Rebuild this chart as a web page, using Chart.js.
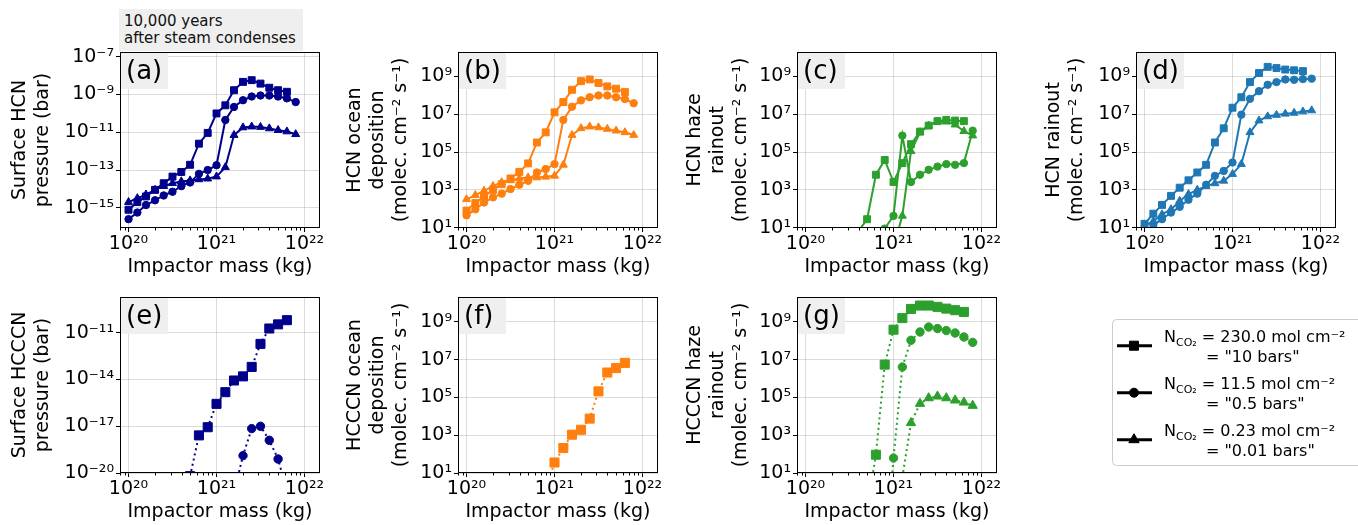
<!DOCTYPE html>
<html>
<head>
<meta charset="utf-8">
<script src="https://cdn.jsdelivr.net/npm/chart.js@4.4.1/dist/chart.umd.min.js"></script>
<style>
html, body { margin: 0; padding: 0; background: #fff; overflow: hidden; width: 1358px; height: 525px; position: relative; }
canvas { position: absolute; }
#note { position: absolute; left: 119px; top: 9px; width: 184px; height: 42px; background: #efefef;
        font: 15px 'DejaVu Sans'; line-height: 17px; padding: 4px 0 0 5px; box-sizing: border-box; color: #111; }
</style>
</head>
<body>
<div id="note">10,000 years<br>after steam condenses</div>
<canvas id="legend" width="246" height="148" style="left:1112px;top:319px"></canvas>
<script>
// ---------- data (impactor mass in kg) ----------
const mass = [1.0e20, 1.26e20, 1.58e20, 2.0e20, 2.51e20, 3.16e20, 3.98e20, 5.01e20, 6.31e20, 7.94e20,
              1.0e21, 1.26e21, 1.58e21, 2.0e21, 2.51e21, 3.16e21, 3.98e21, 5.01e21, 6.31e21, 7.94e21];

// (a) surface HCN pressure (bar)
const pHCN_10bar  = [7.9e-16, 2.0e-15, 4.0e-15, 8.9e-15, 2.0e-14, 4.5e-14, 7.9e-14, 1.9e-13, 2.5e-12, 9.3e-12,
                     1.0e-10, 2.7e-10, 1.7e-9, 4.7e-9, 5.8e-9, 3.8e-9, 2.3e-9, 1.7e-9, 1.4e-9];
const pHCN_05bar  = [2.5e-16, 5.6e-16, 1.4e-15, 2.5e-15, 4.5e-15, 7.1e-15, 1.4e-14, 2.2e-14, 6.3e-14, 1.0e-13,
                     1.8e-13, 4.5e-11, 2.2e-10, 5.0e-10, 7.9e-10, 8.9e-10, 8.9e-10, 7.9e-10, 6.3e-10, 4.0e-10];
const pHCN_001bar = [2.0e-15, 3.2e-15, 5.0e-15, 8.9e-15, 1.4e-14, 2.0e-14, 2.5e-14, 2.8e-14, 3.2e-14, 3.5e-14,
                     4.5e-14, 1.4e-13, 7.1e-12, 1.8e-11, 2.0e-11, 1.9e-11, 1.6e-11, 1.3e-11, 1.1e-11, 7.9e-12];

// (b) HCN ocean deposition (molec. cm^-2 s^-1)
const oceanHCN_10bar  = [80, 200, 450, 1000, 2000, 4000, 8900, 2.5e4, 3.2e5, 1.1e6,
                         1.26e7, 4.4e7, 1.95e8, 5.6e8, 6.9e8, 4.5e8, 2.95e8, 2.24e8, 1.48e8];
const oceanHCN_05bar  = [45, 93, 214, 400, 630, 1100, 1860, 3000, 8300, 1.26e4,
                         2.3e4, 5.0e6, 2.5e7, 5.4e7, 7.9e7, 9.8e7, 9.8e7, 7.9e7, 6.3e7, 3.8e7];
const oceanHCN_001bar = [316, 525, 890, 1580, 2500, 3160, 4000, 4500, 4500, 4900,
                         5500, 2.1e4, 7.9e5, 1.8e6, 2.2e6, 2.0e6, 1.66e6, 1.35e6, 1.1e6, 7.9e5];

// (c) HCN haze rainout
const hazeHCN_10bar  = [null, null, null, null, null, null, 6.3, 28, 6300, 3.8e4,
                        2600, 2.6e4, 2.6e5, 1.2e6, 2.5e6, 4.3e6, 5.0e6, 4.6e6, 4.3e6];
const hazeHCN_05bar  = [null, null, null, null, null, null, null, null, 2, 8.9,
                        42, 7.4e5, 2600, 6300, 1.15e4, 1.7e4, 2.3e4, 2.1e4, 2.6e4, 1.35e6];
const hazeHCN_001bar = [null, null, null, null, null, null, null, null, null, null,
                        1, 42, 1.1e5, 1.1e6, 2.5e6, 4.0e6, 4.0e6, 2.8e6, 1.26e6, 7.4e5];

// (d) HCN rainout
const rainHCN_10bar  = [16, 55, 160, 480, 1300, 3200, 8300, 2.1e4, 3.2e5, 1.8e6,
                        2.2e7, 7.9e7, 5.0e8, 1.5e9, 3.2e9, 2.75e9, 2.3e9, 2.1e9, 1.9e9];
const rainHCN_05bar  = [5, 14, 28, 63, 126, 300, 630, 1860, 5500, 1.0e4,
                        2.8e4, 9.5e6, 6.5e7, 1.66e8, 3.6e8, 5.0e8, 6.9e8, 6.6e8, 7.2e8, 7.6e8];
const rainHCN_001bar = [12.6, 22, 50, 93, 260, 590, 1000, 1580, 2200, 3000,
                        6800, 2.3e4, 1.1e6, 4.6e6, 7.6e6, 9.1e6, 1.05e7, 1.17e7, 1.38e7, 1.58e7];

// (e) surface HCCCN pressure (bar)
const pHC3N_10bar = [null, null, null, null, null, null, null, 6.3e-21, 2.6e-18, 8.7e-18,
                     2.75e-16, 1.55e-15, 8.7e-15, 1.6e-14, 6.5e-14, 1.95e-12, 1.9e-11, 3.5e-11, 6.5e-11];
const pHC3N_05bar = [null, null, null, null, null, null, null, null, null, null,
                     null, null, 5.5e-22, 1.3e-19, 7.1e-18, 1.0e-17, 1.26e-18, 7.9e-20, 6.3e-22];

// (f) HCCCN ocean deposition
const oceanHC3N_10bar = [null, null, null, null, null, null, null, null, null, 1.26,
                         36, 210, 1070, 1950, 7600, 2.1e5, 2.1e6, 3.6e6, 6.8e6];

// (g) HCCCN haze rainout
const hazeHC3N_10bar  = [null, null, null, null, null, null, null, 0.13, 93, 5.5e6,
                         3.9e8, 1.6e9, 4.9e9, 7.4e9, 7.4e9, 6.3e9, 5.1e9, 4.2e9, 3.4e9];
const hazeHC3N_05bar  = [null, null, null, null, null, null, null, null, null, 1e-4,
                         62, 4.1e6, 1.07e8, 2.95e8, 5.4e8, 4.5e8, 3.5e8, 2.6e8, 1.6e8, 8.3e7];
const hazeHC3N_001bar = [null, null, null, null, null, null, null, null, null, null,
                         null, 6, 4500, 4.7e4, 9.3e4, 1.15e5, 9.3e4, 7.1e4, 5.5e4, 3.7e4];

// ticks
const xTicks = [1e20, 1e21, 1e22];
const yTicksHCN = [1e-15, 1e-13, 1e-11, 1e-9, 1e-7];
const yTicksFlux = [1e1, 1e3, 1e5, 1e7, 1e9];
const yTicksHC3N = [1e-20, 1e-17, 1e-14, 1e-11];

const legendAmounts = ['= 230.0 mol cm⁻²', '= 11.5 mol cm⁻²', '= 0.23 mol cm⁻²'];
const legendPressures = ['= "10 bars"', '= "0.5 bars"', '= "0.01 bars"'];

// ---------- styling ----------
const FONT = 'DejaVu Sans';
const GRID = 'rgba(176,176,176,0.45)';
const NAVY = '#00008b', ORANGE = '#ff7f0e', GREEN = '#2ca02c', BLUE = '#1f77b4';
const FLUX = '(molec. cm⁻² s⁻¹)';
const markers = ['rect', 'circle', 'triangle'];

const xMinor = [];
[1e19, 1e20, 1e21].forEach(d => { for (let m = 2; m <= 9; m++) xMinor.push(m * d); });

const SUP = {'-': '⁻', '0': '⁰', '1': '¹', '2': '²', '3': '³', '4': '⁴', '5': '⁵', '6': '⁶', '7': '⁷', '8': '⁸', '9': '⁹'};
function pow10(v) {
    const e = Math.round(Math.log10(v));
    return '10' + String(e).split('').map(c => SUP[c]).join('');
}

const panels = [
    {label: '(a)', left: 120, top: 52, color: NAVY, yMin: 8.5e-17, yMax: 1.8e-7, yTicks: yTicksHCN,
     title: ['Surface HCN', 'pressure (bar)'], pad: 9, dotted: false,
     series: [pHCN_10bar, pHCN_05bar, pHCN_001bar]},
    {label: '(b)', left: 458, top: 52, color: ORANGE, yMin: 9.6, yMax: 1.95e10, yTicks: yTicksFlux,
     title: ['HCN ocean', 'deposition', FLUX], pad: 6, dotted: false,
     series: [oceanHCN_10bar, oceanHCN_05bar, oceanHCN_001bar]},
    {label: '(c)', left: 797, top: 52, color: GREEN, yMin: 9.6, yMax: 1.95e10, yTicks: yTicksFlux,
     title: ['HCN haze', 'rainout', FLUX], pad: 7, dotted: false,
     series: [hazeHCN_10bar, hazeHCN_05bar, hazeHCN_001bar]},
    {label: '(d)', left: 1136, top: 52, color: BLUE, yMin: 9.6, yMax: 1.95e10, yTicks: yTicksFlux,
     title: ['HCN rainout', FLUX], pad: 27, dotted: false,
     series: [rainHCN_10bar, rainHCN_05bar, rainHCN_001bar]},
    {label: '(e)', left: 120, top: 297, color: NAVY, yMin: 1e-20, yMax: 2e-9, yTicks: yTicksHC3N,
     title: ['Surface HCCCN', 'pressure (bar)'], pad: 9, dotted: true,
     series: [pHC3N_10bar, pHC3N_05bar]},
    {label: '(f)', left: 458, top: 297, color: ORANGE, yMin: 10, yMax: 2.1e10, yTicks: yTicksFlux,
     title: ['HCCCN ocean', 'deposition', FLUX], pad: 6, dotted: true,
     series: [oceanHC3N_10bar]},
    {label: '(g)', left: 797, top: 297, color: GREEN, yMin: 10, yMax: 2.1e10, yTicks: yTicksFlux,
     title: ['HCCCN haze', 'rainout', FLUX], pad: 7, dotted: true,
     series: [hazeHC3N_10bar, hazeHC3N_05bar, hazeHC3N_001bar]},
];

// panel letter box, full frame and minor x ticks
const framePlugin = {
    id: 'frame',
    beforeDatasetsDraw(chart, args, opts) {
        const {ctx, chartArea: a} = chart;
        ctx.save();
        ctx.fillStyle = '#efefef';
        ctx.fillRect(a.left + 1, a.top + 1, 47, 36);
        ctx.fillStyle = '#000';
        ctx.font = '26px "' + FONT + '"';
        ctx.textBaseline = 'middle';
        ctx.fillText(opts.label, a.left + 6, a.top + 20);
        ctx.restore();
    },
    afterDatasetsDraw(chart) {
        const {ctx, chartArea: a, scales} = chart;
        ctx.save();
        ctx.strokeStyle = '#000';
        ctx.lineWidth = 1;
        ctx.strokeRect(a.left + 0.5, a.top + 0.5, a.width - 1, a.height - 1);
        ctx.beginPath();
        xMinor.forEach(v => {
            const px = Math.round(scales.x.getPixelForValue(v)) + 0.5;
            if (px < a.left || px > a.right) return;
            ctx.moveTo(px, a.bottom);
            ctx.lineTo(px, a.bottom + 2.5);
        });
        ctx.stroke();
        ctx.restore();
    }
};

function makePanel(p) {
    const cv = document.createElement('canvas');
    cv.width = 340;
    cv.height = 241;
    cv.style.left = (p.left - 120) + 'px';
    cv.style.top = (p.top - 10) + 'px';
    document.body.appendChild(cv);

    const radii = p.dotted ? [6.4, 4.2, 5.4] : [4.9, 3.7, 4.6];
    const datasets = p.series.map((vals, i) => ({
        data: vals.map((v, k) => ({x: mass[k], y: v})),
        borderColor: p.color,
        backgroundColor: p.color,
        borderWidth: 2,
        borderDash: p.dotted ? [2, 3.3] : [],
        pointStyle: markers[i],
        pointRadius: radii[i],
        pointBorderWidth: 1,
        pointBorderColor: p.color,
        pointBackgroundColor: p.color,
        order: 3 - i,
        tension: 0,
        spanGaps: false
    }));

    const tickFont = {family: FONT, size: 19};
    new Chart(cv, {
        type: 'line',
        data: {datasets},
        options: {
            responsive: false,
            animation: false,
            devicePixelRatio: 1,
            layout: {padding: {top: 10, right: 20, left: 0, bottom: 0}},
            plugins: {legend: {display: false}, tooltip: {enabled: false}, frame: {label: p.label}},
            scales: {
                x: {
                    type: 'logarithmic', min: 8e19, max: 1.5e22,
                    afterBuildTicks: s => { s.ticks = xTicks.map(v => ({value: v})); },
                    afterFit: s => { s.height = 55; s.paddingLeft = 0; s.paddingRight = 0; },
                    ticks: {callback: v => pow10(v), font: tickFont, color: '#000', maxRotation: 0, autoSkip: false, padding: 1},
                    grid: {color: GRID, tickColor: '#000', tickLength: 4, lineWidth: 1},
                    border: {display: false},
                    title: {display: true, text: 'Impactor mass (kg)', color: '#000',
                            font: {family: FONT, size: 19, lineHeight: 1.2}, padding: {top: 0, bottom: 5}}
                },
                y: {
                    type: 'logarithmic', min: p.yMin, max: p.yMax,
                    afterBuildTicks: s => { s.ticks = p.yTicks.map(v => ({value: v})); },
                    afterFit: s => { s.width = 120; s.paddingTop = 0; s.paddingBottom = 0; },
                    ticks: {callback: v => pow10(v), font: tickFont, color: '#000', autoSkip: false, padding: 2},
                    grid: {color: GRID, tickColor: '#000', tickLength: 4, lineWidth: 1},
                    border: {display: false},
                    title: {display: true, text: p.title, color: '#000',
                            font: {family: FONT, size: 19, lineHeight: 1.2}, padding: {top: p.pad, bottom: 0}}
                }
            }
        },
        plugins: [framePlugin]
    });
}

panels.forEach(makePanel);

// ---------- legend ----------
const lg = document.getElementById('legend').getContext('2d');
lg.strokeStyle = '#cccccc';
lg.lineWidth = 1;
lg.beginPath();
lg.roundRect(0.5, 0.5, 300, 146, 4);
lg.stroke();
legendAmounts.forEach((amount, i) => {
    const yc = 26.7 + 47 * i;
    lg.strokeStyle = '#000';
    lg.fillStyle = '#000';
    lg.lineWidth = 3;
    lg.beginPath();
    lg.moveTo(5, yc);
    lg.lineTo(40, yc);
    lg.stroke();
    lg.lineWidth = 1;
    Chart.helpers.drawPoint(lg, {pointStyle: markers[i], radius: [6.4, 4.5, 6][i], rotation: 0, borderWidth: 1}, 22, yc);

    const base = 22.7 + 47 * i;
    lg.textBaseline = 'alphabetic';
    lg.font = '16px "' + FONT + '"';
    lg.fillText('N', 52, base);
    let x = 52 + lg.measureText('N').width;
    lg.font = '11px "' + FONT + '"';
    lg.fillText('CO₂', x, base + 4);
    x += lg.measureText('CO₂').width;
    lg.font = '16px "' + FONT + '"';
    lg.fillText(' ' + amount, x, base);
    lg.fillText(legendPressures[i], 94, base + 20);
});
</script>
</body>
</html>
